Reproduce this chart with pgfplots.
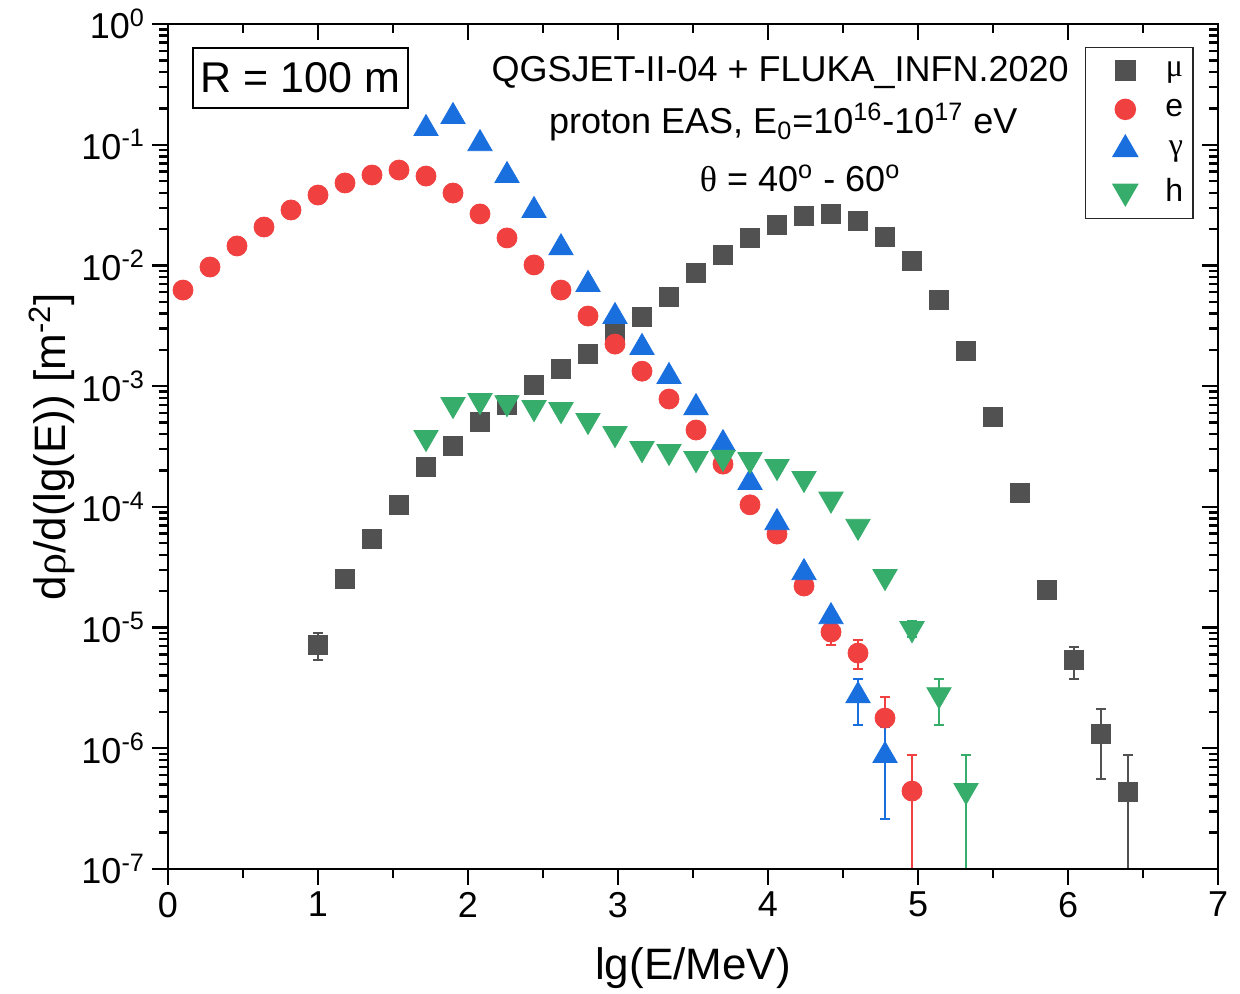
\documentclass[border=0pt]{standalone}
\usepackage{fontspec}
\setmainfont{Liberation Sans}
\newfontfamily\serifgr{Liberation Serif}
\usepackage{pgfplots}
\usepackage{pgfplotstable}
\pgfplotsset{compat=1.18}

\definecolor{cmu}{HTML}{515151}
\definecolor{ce}{HTML}{F14040}
\definecolor{cg}{HTML}{1A6FDF}
\definecolor{ch}{HTML}{37AD6B}

\pgfplotstableread{
x y ep em
1.00 7.2e-6 1.8e-6 1.8e-6
1.18 2.52e-5 0 0
1.36 5.4e-5 0 0
1.54 1.035e-4 0 0
1.72 2.14e-4 0 0
1.90 3.19e-4 0 0
2.08 5.05e-4 0 0
2.26 6.97e-4 0 0
2.44 1.02e-3 0 0
2.62 1.39e-3 0 0
2.80 1.85e-3 0 0
2.98 2.70e-3 0 0
3.16 3.74e-3 0 0
3.34 5.47e-3 0 0
3.52 8.65e-3 0 0
3.70 1.22e-2 0 0
3.88 1.69e-2 0 0
4.06 2.16e-2 0 0
4.24 2.57e-2 0 0
4.42 2.67e-2 0 0
4.60 2.33e-2 0 0
4.78 1.72e-2 0 0
4.96 1.09e-2 0 0
5.14 5.17e-3 0 0
5.32 1.95e-3 0 0
5.50 5.55e-4 0 0
5.68 1.30e-4 0 0
5.86 2.05e-5 1.5e-6 1.5e-6
6.04 5.4e-6 1.5e-6 1.66e-6
6.22 1.31e-6 0.8e-6 0.755e-6
6.40 4.34e-7 4.46e-7 4.30e-7
}\tmu

\pgfplotstableread{
x y ep em
0.10 6.25e-3 0 0
0.28 9.7e-3 0 0
0.46 1.45e-2 0 0
0.64 2.08e-2 0 0
0.82 2.88e-2 0 0
1.00 3.83e-2 0 0
1.18 4.82e-2 0 0
1.36 5.61e-2 0 0
1.54 6.17e-2 0 0
1.72 5.50e-2 0 0
1.90 3.98e-2 0 0
2.08 2.67e-2 0 0
2.26 1.69e-2 0 0
2.44 1.01e-2 0 0
2.62 6.25e-3 0 0
2.80 3.81e-3 0 0
2.98 2.23e-3 0 0
3.16 1.33e-3 0 0
3.34 7.82e-4 0 0
3.52 4.33e-4 0 0
3.70 2.26e-4 0 0
3.88 1.04e-4 0 0
4.06 5.95e-5 0 0
4.24 2.21e-5 0 0
4.42 9.18e-6 1.9e-6 2.0e-6
4.60 6.15e-6 1.7e-6 1.6e-6
4.78 1.78e-6 0.87e-6 0.9e-6
4.96 4.42e-7 4.4e-7 4.38e-7
}\te

\pgfplotstableread{
x y ep em
1.72 0.136 0 0
1.90 0.171 0.015 0.015
2.08 0.102 0.01 0.01
2.26 0.0555 0 0
2.44 0.0285 0.003 0.003
2.62 0.0140 0 0
2.80 6.95e-3 0 0
2.98 3.77e-3 0 0
3.16 2.09e-3 0 0
3.34 1.20e-3 0 0
3.52 6.64e-4 0 0
3.70 3.34e-4 0 0
3.88 1.59e-4 0 0
4.06 7.4e-5 0 0
4.24 2.85e-5 0 0
4.42 1.23e-5 1.0e-6 1.0e-6
4.60 2.73e-6 1.0e-6 1.17e-6
4.78 8.7e-7 6.3e-7 6.1e-7
}\tg

\pgfplotstableread{
x y ep em
1.72 3.76e-4 0 0
1.90 7.05e-4 0 0
2.08 7.6e-4 0 0
2.26 7.3e-4 0 0
2.44 6.65e-4 0 0
2.62 6.4e-4 0 0
2.80 5.2e-4 0 0
2.98 4.05e-4 0 0
3.16 3.04e-4 0 0
3.34 2.88e-4 0 0
3.52 2.51e-4 0 0
3.70 2.57e-4 0 0
3.88 2.47e-4 0 0
4.06 2.16e-4 0 0
4.24 1.72e-4 0 0
4.42 1.16e-4 0 0
4.60 6.9e-5 0 0
4.78 2.65e-5 1.0e-6 1.0e-6
4.96 9.8e-6 1.5e-6 1.5e-6
5.14 2.78e-6 0.96e-6 1.22e-6
5.32 4.47e-7 4.33e-7 4.45e-7
}\th

\begin{document}
\begin{tikzpicture}
\begin{axis}[
  at={(0,0)}, anchor=south west, scale only axis,
  width=525pt, height=422.5pt,
  xmin=0, xmax=7, ymode=log, ymin=1e-7, ymax=1,
  xtick={0,1,2,3,4,5,6,7}, minor x tick num=1,
  major tick length=8pt, minor tick length=4.5pt,
  every tick/.style={line width=1.2pt, black},
  axis line style={line width=1.3pt},
  xtick pos=left, ytick pos=left, tick align=outside,
  ticklabel style={font=\fontsize{18}{21}\selectfont},
  /pgf/number format/assume math mode=true,
  yticklabel={10\textsuperscript{\pgfmathparse{int(round(\tick/ln(10)))}\pgfmathresult}},
  xlabel={lg(E/MeV)},
  ylabel={d{\serifgr ρ}/d(lg(E)) [m\textsuperscript{-2}]},
  label style={font=\fontsize{22}{26}\selectfont},
  xlabel style={at={(axis description cs:0.5,-0.117)}, anchor=center},
  ylabel style={at={(axis description cs:-0.1105,0.5)}, anchor=center},
  legend style={at={(0.977,0.973)}, anchor=north east, draw=black!85, line width=0.75pt,
    font=\fontsize{16}{20}\selectfont, inner xsep=3pt, inner ysep=5pt, row sep=6pt,
    /tikz/every odd column/.append style={column sep=0pt}},
  legend cell align=right,
  legend image code/.code={\path[draw=none, fill=none] (-17pt,0pt) -- (18pt,0pt);
    \draw[mark repeat=2,mark phase=2] plot coordinates {(-5pt,0pt)(0pt,0pt)(5pt,0pt)};},
  error bars/y dir=both, error bars/y explicit,
]
\addplot[only marks, mark=square*, mark size=4.75pt, mark options={draw=cmu, fill=cmu},
  error bars/error bar style={line width=1pt, cmu},
  error bars/error mark options={rotate=90, line width=1pt, mark size=2.5pt, cmu}]
  table[x=x, y=y, y error plus=ep, y error minus=em]{\tmu};
\addlegendentry{\serifgr μ}
\addplot[only marks, mark=*, mark size=5pt, mark options={draw=ce, fill=ce},
  error bars/error bar style={line width=1pt, ce},
  error bars/error mark options={rotate=90, line width=1pt, mark size=2.5pt, ce}]
  table[x=x, y=y, y error plus=ep, y error minus=em]{\te};
\addlegendentry{e}
\addplot[only marks, mark=triangle*, mark size=7pt, mark options={draw=cg, fill=cg},
  error bars/error bar style={line width=1pt, cg},
  error bars/error mark options={rotate=90, line width=1pt, mark size=2.5pt, cg}]
  table[x=x, y=y, y error plus=ep, y error minus=em]{\tg};
\addlegendentry{\serifgr γ}
\addplot[only marks, mark=triangle*, mark size=7pt, mark options={draw=ch, fill=ch, rotate=180},
  error bars/error bar style={line width=1pt, ch},
  error bars/error mark options={rotate=90, line width=1pt, mark size=2.5pt, ch}]
  table[x=x, y=y, y error plus=ep, y error minus=em]{\th};
\addlegendentry{h}

\node[draw=black, line width=0.75pt, font=\fontsize{21.5}{26}\selectfont,
  minimum width=107.5pt, minimum height=30pt, inner sep=0pt]
  at (rel axis cs:0.126,0.936) {R = 100 m};
\node[font=\fontsize{18}{21}\selectfont] at (rel axis cs:0.583,0.943) {QGSJET-II-04 + FLUKA\_INFN.2020};
\node[font=\fontsize{18}{21}\selectfont] at (rel axis cs:0.586,0.884) {proton EAS, E\textsubscript{0}=10\textsuperscript{16}-10\textsuperscript{17} eV};
\node[font=\fontsize{18}{21}\selectfont] at (rel axis cs:0.602,0.817) {{\serifgr θ} = 40\textsuperscript{o} - 60\textsuperscript{o}};
\end{axis}
\begin{axis}[
  at={(0,0)}, anchor=south west, scale only axis,
  width=525pt, height=422.5pt,
  xmin=0, xmax=7, ymode=log, ymin=1e-7, ymax=1,
  xtick={0,1,2,3,4,5,6,7}, minor x tick num=1,
  major tick length=8pt, minor tick length=4.5pt,
  every tick/.style={line width=1.2pt, black},
  axis line style={line width=1.3pt},
  xtick pos=right, ytick pos=right, tick align=inside,
  xticklabels={}, yticklabels={},
]
\addplot[draw=none] table[x=x, y=y]{\tmu};
\end{axis}
\pgfresetboundingbox
\path[use as bounding box] (-84pt,-62.5pt) rectangle (536pt,434.5pt);
\end{tikzpicture}
\end{document}
